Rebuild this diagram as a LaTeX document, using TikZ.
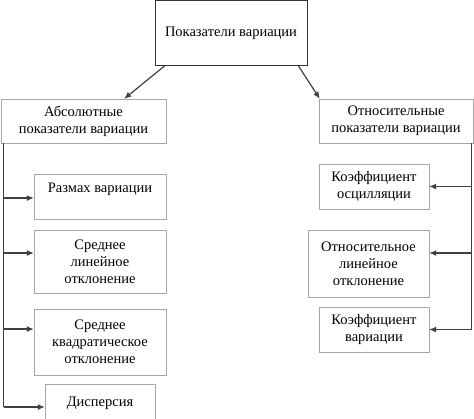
\documentclass[tikz,border=0pt]{standalone}
\usepackage{fontspec}
\setmainfont{Liberation Serif}
\usetikzlibrary{
    arrows.meta,
    positioning
}

\begin{document}
\begin{tikzpicture}[x=1pt, y=1pt,
    box/.style={draw=gray!70, rectangle, align=center, inner sep=1pt, font=\fontsize{14.5}{16.8}\selectfont},
    trunk/.style={draw=black!75, line width=1.2pt},
    link/.style={trunk, -{Latex[length=7pt, width=6pt]}}]
                        \useasboundingbox (0, 0) rectangle (474, -418);
                        \node[box, draw=black!80, line width=1pt, minimum width=152pt, minimum height=65pt] (top) at (231, -33) {Показатели вариации};
                        \node[box, minimum width=165pt, minimum height=44pt] (abs) at (83.5, -121) {Абсолютные\\показатели вариации};
                        \node[box, minimum width=154pt, minimum height=44pt] (rel) at (396, -121) {Относительные\\показатели вариации};
                        \node[box, minimum width=132pt, minimum height=45pt] (range) at (100, -196.5) {Размах вариации\\\mbox{}};
                        \node[box, minimum width=132pt, minimum height=63pt] (mad) at (100, -261.5) {Среднее\\линейное\\отклонение};
                        \node[box, minimum width=132pt, minimum height=66pt] (sd) at (100, -342) {Среднее\\квадратическое\\отклонение};
                        \node[box, minimum width=110pt, minimum height=38pt] (var) at (100, -403) {Дисперсия};
                        \node[box, minimum width=110pt, minimum height=45pt] (osc) at (374, -186.5) {Коэффициент\\осцилляции};
                        \node[box, minimum width=121pt, minimum height=67pt] (rlin) at (368.5, -263.5) {Относительное\\линейное\\отклонение};
                        \node[box, minimum width=110pt, minimum height=45pt] (cv) at (374, -329.5) {Коэффициент\\вариации};
                        % arrow ends on the boxes
                        \coordinate (rangein) at ([yshift=-1.5pt]range.west);
                        \coordinate (madin) at ([yshift=8.5pt]mad.west);
                        \coordinate (sdin) at ([yshift=13pt]sd.west);
                        \coordinate (varin) at ([yshift=-4pt]var.west);
                        \coordinate (rlinin) at ([yshift=10.5pt]rlin.east);
                        \coordinate (ltrunk) at ([xshift=3pt]abs.south west);
                        \coordinate (rtrunk) at ([xshift=-1.5pt]rel.south east);
                        \draw[link] ([xshift=10pt]top.south west) -- ([xshift=-42pt]abs.north east);
                        \draw[link] ([xshift=-9pt]top.south east) -- ([xshift=1pt]rel.north west);
                        \draw[trunk] (ltrunk) -- (ltrunk |- varin);
                        \draw[trunk] (rtrunk) -- (rtrunk |- cv.east);
                        \foreach \t in {rangein, madin, sdin, varin}
                            \draw[link] (ltrunk |- \t) -- (\t);
                        \foreach \t in {osc.east, rlinin, cv.east}
                            \draw[link] (rtrunk |- \t) -- (\t);
                    \end{tikzpicture}
\end{document}
